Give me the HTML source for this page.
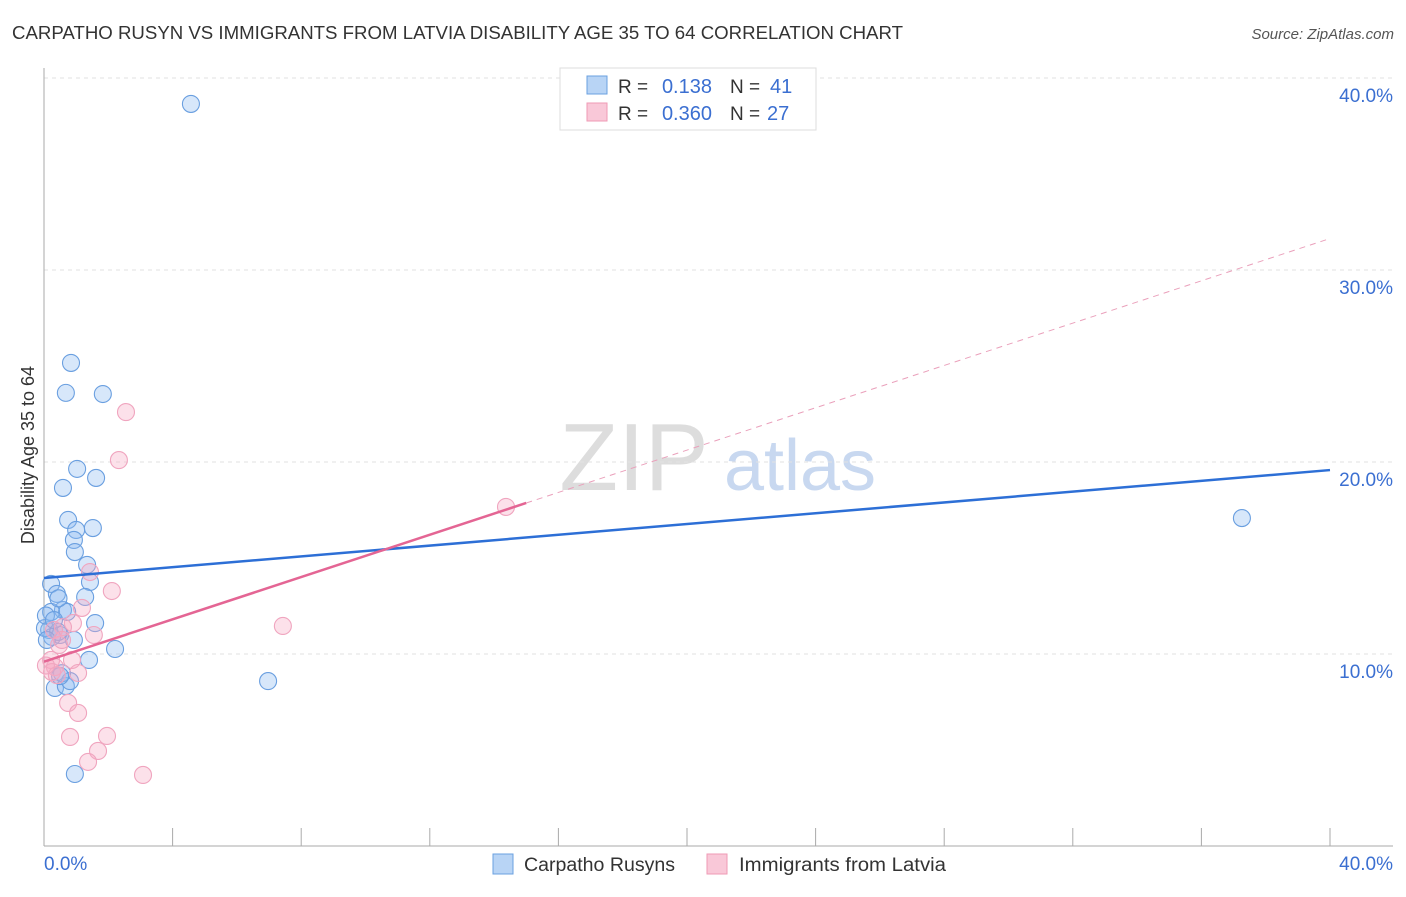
<!DOCTYPE html>
<html><head><meta charset="utf-8"><style>
body{margin:0;background:#fff;font-family:"Liberation Sans",sans-serif}
svg text{font-family:"Liberation Sans",sans-serif}
</style></head><body>
<svg id="chart" width="1406" height="892">
<text x="12" y="39" font-size="18" fill="#333" textLength="891" lengthAdjust="spacingAndGlyphs">CARPATHO RUSYN VS IMMIGRANTS FROM LATVIA DISABILITY AGE 35 TO 64 CORRELATION CHART</text>
<text x="1394" y="39" font-size="15" fill="#555" text-anchor="end" font-style="italic">Source: ZipAtlas.com</text>
<g>
<text x="634" y="490" font-size="96" fill="#ddd" font-family="Liberation Serif,serif" text-anchor="middle">ZIP</text>
<text x="800" y="490" font-size="72" fill="#c8d8f0" text-anchor="middle">atlas</text>
</g>
<g id="grid"></g>
<g id="axes"></g>
<g id="marks"></g>
<text transform="translate(34,455) rotate(-90)" font-size="18" fill="#333" text-anchor="middle">Disability Age 35 to 64</text>
<g>
<rect x="560" y="68" width="256" height="62" fill="#fff" stroke="#ddd"/>
<rect x="587" y="76" width="20" height="18" fill="#b8d4f5" stroke="#6aa0e0"/>
<rect x="587" y="103" width="20" height="18" fill="#f9c8d8" stroke="#ef9ab5"/>
<text x="618" y="93" font-size="19" fill="#333">R =</text>
<text x="712" y="93" font-size="20" fill="#3b6fd1" text-anchor="end">0.138</text>
<text x="730" y="93" font-size="19" fill="#333">N =</text>
<text x="770" y="93" font-size="20" fill="#3b6fd1">41</text>
<text x="618" y="120" font-size="19" fill="#333">R =</text>
<text x="712" y="120" font-size="20" fill="#3b6fd1" text-anchor="end">0.360</text>
<text x="730" y="120" font-size="19" fill="#333">N =</text>
<text x="767" y="120" font-size="20" fill="#3b6fd1">27</text>
</g>
<g>
<rect x="493" y="854" width="20" height="20" fill="#b8d4f5" stroke="#6aa0e0"/>
<text x="524" y="871" font-size="19" fill="#333" textLength="151" lengthAdjust="spacingAndGlyphs">Carpatho Rusyns</text>
<rect x="707" y="854" width="20" height="20" fill="#f9c8d8" stroke="#ef9ab5"/>
<text x="739" y="871" font-size="19" fill="#333" textLength="207" lengthAdjust="spacingAndGlyphs">Immigrants from Latvia</text>
</g>
</svg>
<script>
const yTicks=[10,20,30,40];
const yTickLabels=["10.0%","20.0%","30.0%","40.0%"];
const xTickLabels=["0.0%","40.0%"];
const blueX=[4.57,0.84,0.68,1.83,1.03,0.59,1.62,0.75,1.52,1.0,0.93,0.96,1.34,1.43,0.22,0.4,1.28,0.59,0.22,0.72,1.59,0.16,0.5,0.93,0.25,2.21,1.4,0.34,0.68,0.81,6.97,0.96,37.26,0.03,0.44,0.56,0.06,0.31,0.09,0.5,0.45];
const blueY=[38.65,25.16,23.6,23.54,19.64,18.65,19.17,16.98,16.56,16.46,15.94,15.31,14.64,13.75,13.65,13.13,12.97,12.29,12.19,12.19,11.61,11.25,10.99,10.73,10.89,10.26,9.69,8.23,8.33,8.59,8.59,3.75,17.08,11.35,11.15,9.0,12.0,11.77,10.73,8.85,12.9];
const pinkX=[2.55,2.33,14.37,1.43,2.11,1.18,0.9,0.59,7.43,1.55,0.31,0.47,0.87,0.22,0.34,1.06,0.25,0.4,0.75,1.06,0.81,1.96,1.68,1.37,3.08,0.06,0.56];
const pinkY=[22.6,20.1,17.66,14.27,13.28,12.4,11.61,11.4,11.46,10.99,11.25,10.47,9.69,9.69,9.32,9.01,9.06,8.9,7.45,6.93,5.68,5.73,4.95,4.38,3.7,9.4,10.73];
const blueLine=[13.96,19.58];
const pinkLine=[9.6,0.551];
const pinkSolidEnd=15.0;

const X=v=>44+v/40*1286, Y=v=>846-v*19.2;
const NS="http://www.w3.org/2000/svg";
function mk(tag,attrs,parent){const e=document.createElementNS(NS,tag);for(const k in attrs)e.setAttribute(k,attrs[k]);document.getElementById(parent).appendChild(e);return e;}
yTicks.forEach((t,i)=>{
 const g=mk('line',{x1:44,x2:1393,y1:Y(t),y2:Y(t),stroke:'#e2e2e2','stroke-dasharray':'4,4'},'grid');
 
 
 const l=mk('text',{x:1393,y:Y(t)+24,'font-size':19,fill:'#3b6fd1','text-anchor':'end'},'grid');
 l.textContent=yTickLabels[i];
 
 
});
const ax=mk('line',{x1:44,x2:44,y1:68,y2:846,stroke:'#aaa'},'axes');


const bx=mk('line',{x1:44,x2:1393,y1:846,y2:846,stroke:'#aaa'},'axes');


for(let i=1;i<=10;i++){const t=mk('line',{x1:X(i*4),x2:X(i*4),y1:846,y2:828,stroke:'#aaa'},'axes');
 
 }
[[0,'start',44],[40,'end',1393]].forEach(([v,a,px],i)=>{const t=mk('text',{x:px,y:870,'font-size':19,fill:'#3b6fd1','text-anchor':a},'axes');t.textContent=xTickLabels[i];
 
 });
blueX.forEach((x,i)=>{const c=mk('circle',{cx:X(x),cy:Y(blueY[i]),r:8.5,fill:'rgba(140,185,240,0.35)',stroke:'#6a9fe0','stroke-width':1.1},'marks');
 
 });
pinkX.forEach((x,i)=>{const c=mk('circle',{cx:X(x),cy:Y(pinkY[i]),r:8.5,fill:'rgba(245,170,195,0.35)',stroke:'#f0a5bf','stroke-width':1.1},'marks');
 
 });
const bl=mk('line',{x1:X(0),y1:Y(blueLine[0]),x2:X(40),y2:Y(blueLine[1]),stroke:'#2d6fd6','stroke-width':2.5},'marks');


const pl=mk('line',{x1:X(0),y1:Y(pinkLine[0]),x2:X(pinkSolidEnd),y2:Y(pinkLine[0]+pinkLine[1]*pinkSolidEnd),stroke:'#e46594','stroke-width':2.5},'marks');


const pd=mk('line',{x1:X(pinkSolidEnd),y1:Y(pinkLine[0]+pinkLine[1]*pinkSolidEnd),x2:X(40),y2:Y(pinkLine[0]+pinkLine[1]*40),stroke:'#eaa0bb','stroke-width':1,'stroke-dasharray':'6,5'},'marks');


</script>
</body></html>
